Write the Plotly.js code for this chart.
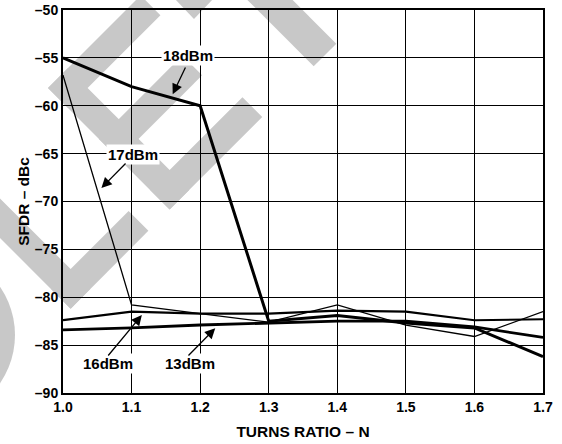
<!DOCTYPE html>
<html>
<head>
<meta charset="utf-8">
<script src="https://cdn.plot.ly/plotly-3.0.1.min.js"></script>
<style>html,body{margin:0;padding:0;background:#fff;}#chart{width:562px;height:444px;}</style>
</head>
<body>
<div id="chart"></div>
<script>
const turnsRatio = [1.0, 1.1, 1.2, 1.3, 1.4, 1.5, 1.6, 1.7];
const sfdr18 = [-55.0, -58.0, -60.0, -82.5, -81.9, -82.7, -83.2, -86.2];
const sfdr17 = [-56.8, -80.8, -81.7, -82.6, -80.8, -82.9, -84.1, -81.5];
const sfdr16 = [-82.4, -81.5, -81.7, -81.7, -81.4, -81.5, -82.4, -82.3];
const sfdr13 = [-83.4, -83.2, -82.9, -82.7, -82.5, -82.5, -83.1, -84.2];
const xTicks = [1.0, 1.1, 1.2, 1.3, 1.4, 1.5, 1.6, 1.7];
const xTickText = ['1.0', '1.1', '1.2', '1.3', '1.4', '1.5', '1.6', '1.7'];
const yTicks = [-90, -85, -80, -75, -70, -65, -60, -55, -50];
const yTickText = ['–90', '–85', '–80', '–75', '–70', '–65', '–60', '–55', '–50'];
const seriesNames = ['18dBm', '17dBm', '16dBm', '13dBm'];
// label positions (data units) and arrow tips (data units)
const labelX = [1.1825, 1.1021, 1.0656, 1.1852];
const labelY = [-54.70, -65.04, -86.87, -86.87];
const tipX = [1.160, 1.056, 1.115, 1.222];
const tipY = [-58.8, -68.6, -81.85, -83.24];

const font = {family: 'Liberation Sans, Arial, sans-serif', color: '#000'};
const W = 562, H = 444;
const M = {l: 63, r: 19, t: 10, b: 51};
const PW = W - M.l - M.r, PH = H - M.t - M.b;
const xr = [1.0, 1.7], yr = [-90, -50];
function dx2px(x) { return M.l + (x - xr[0]) / (xr[1] - xr[0]) * PW; }
function dy2px(y) { return M.t + (yr[1] - y) / (yr[1] - yr[0]) * PH; }
function toPaper(p) { return [(p[0] - M.l) / PW, (H - M.b - p[1]) / PH]; }

const traces = [
  {x: turnsRatio, y: sfdr18, name: seriesNames[0], mode: 'lines', line: {color: '#000', width: 3}},
  {x: turnsRatio, y: sfdr17, name: seriesNames[1], mode: 'lines', line: {color: '#000', width: 1.3}},
  {x: turnsRatio, y: sfdr16, name: seriesNames[2], mode: 'lines', line: {color: '#000', width: 2.2}},
  {x: turnsRatio, y: sfdr13, name: seriesNames[3], mode: 'lines', line: {color: '#000', width: 2.8}}
];

const annotations = [];
seriesNames.forEach((name, i) => {
  annotations.push({
    text: '<b>' + name + '</b>', x: labelX[i], y: labelY[i], xref: 'x', yref: 'y',
    showarrow: false, bgcolor: '#fff', borderpad: 1,
    font: Object.assign({}, font, {size: 15})
  });
});
// arrows from just outside each label to its tip
const tailOff = [[-2, 11], [-6, 8], [-1, -6], [-3, -6]];
seriesNames.forEach((name, i) => {
  const lx = dx2px(labelX[i]) + tailOff[i][0], ly = dy2px(labelY[i]) + tailOff[i][1];
  const tx = dx2px(tipX[i]), ty = dy2px(tipY[i]);
  annotations.push({
    text: '', x: tipX[i], y: tipY[i], xref: 'x', yref: 'y',
    ax: lx - tx, ay: ly - ty, showarrow: true, arrowhead: 2, arrowsize: 1.6, arrowwidth: 1.3,
    arrowcolor: '#000'
  });
});

// --- background watermark (grey letters), built in pixel space then mapped to paper ---
function polyPath(pts) {
  return pts.map((p, i) => { const q = toPaper(p); return (i ? 'L' : 'M') + q[0].toFixed(4) + ',' + q[1].toFixed(4); }).join(' ') + ' Z';
}
const R2 = Math.SQRT2;
function framePt(o, u, v) { return [o[0] + (u + v) / R2, o[1] + (v - u) / R2]; }
function rectIn(o, u0, u1, v0, v1) {
  return polyPath([framePt(o, u0, v0), framePt(o, u1, v0), framePt(o, u1, v1), framePt(o, u0, v1)]);
}
const wmColor = '#c8c8c8';
function wmShape(path) {
  return {type: 'path', xref: 'paper', yref: 'paper', path: path, fillcolor: wmColor, line: {width: 0}, layer: 'below'};
}
const eO = [48, 88], lH = 172, st = 28, lO = [-51, 187], tEnd = [325, 55];
const wmPaths = [
  rectIn(eO, 0, st, 0, lH),
  rectIn(eO, 0, 131, 0, st),
  rectIn(eO, 0, 118, lH / 2 - st / 2, lH / 2 + st / 2),
  rectIn(eO, 0, 131, lH - st, lH),
  rectIn(lO, 0, st, -60, lH),
  rectIn(lO, 0, 110, lH - st, lH),
  rectIn(tEnd, -16, 16, -200, 0),
  polyPath([[174, -2], [214, -2], [194, 19]])
];
const wmShapes = wmPaths.map(wmShape);
wmShapes.push({type: 'circle', xref: 'paper', yref: 'paper',
  x0: toPaper([-155, 0])[0], x1: toPaper([15, 0])[0], y0: toPaper([0, 420])[1], y1: toPaper([0, 250])[1],
  fillcolor: wmColor, line: {width: 0}, layer: 'below'});

const layout = {
  width: W, height: H,
  margin: M,
  paper_bgcolor: '#fff', plot_bgcolor: 'rgba(0,0,0,0)',
  showlegend: false,
  font: Object.assign({}, font, {size: 14}),
  xaxis: {
    range: xr, tickvals: xTicks, ticktext: xTickText,
    showgrid: true, gridcolor: '#000', gridwidth: 1,
    showline: true, linecolor: '#000', linewidth: 2, mirror: true,
    ticks: '', zeroline: false,
    tickfont: Object.assign({}, font, {size: 14, weight: 'bold'}),
    title: {text: '<b>TURNS RATIO – N</b>', font: Object.assign({}, font, {size: 15.5}), standoff: 12}
  },
  yaxis: {
    range: yr, tickvals: yTicks, ticktext: yTickText,
    showgrid: true, gridcolor: '#000', gridwidth: 1,
    showline: true, linecolor: '#000', linewidth: 2, mirror: true,
    ticks: '', zeroline: false,
    tickfont: Object.assign({}, font, {size: 14, weight: 'bold'}),
    title: {text: '<b>SFDR – dBc</b>', font: Object.assign({}, font, {size: 15.5}), standoff: 1}
  },
  shapes: wmShapes,
  annotations: annotations
};

Plotly.newPlot('chart', traces, layout, {displayModeBar: false});
</script>
</body>
</html>
